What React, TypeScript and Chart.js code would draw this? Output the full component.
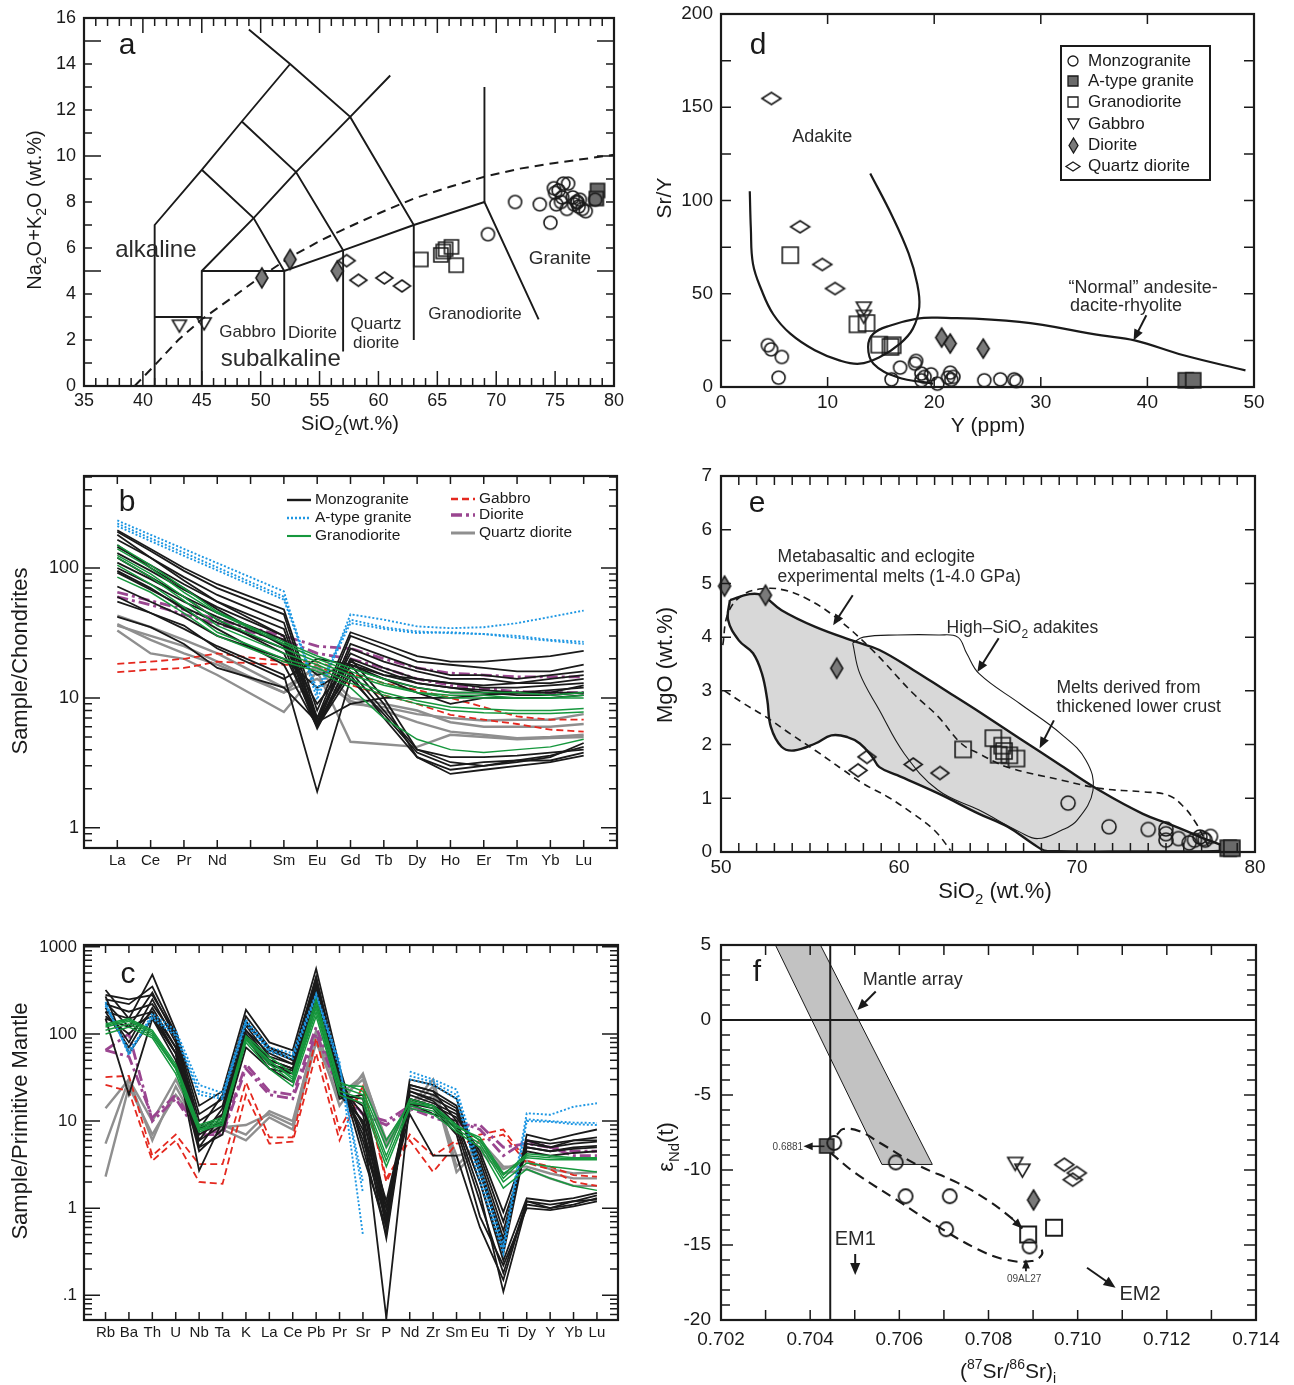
import React, { useEffect, useRef } from "react";
import { Chart, registerables } from "chart.js";

Chart.register(...registerables);

const FONT = "'Liberation Sans', Arial, Helvetica, sans-serif";
const INK = "#1a1a1a";
const TXT = "#2a2a2a";
const GRAY_FILL = "#7a7a7a";
const DARK_FILL = "#6a6a6a";
const C_BLUE = "#1e97e3";
const C_GREEN = "#16973d";
const C_RED = "#e4281f";
const C_PURPLE = "#9a4690";
const C_GRAY = "#8f8f8f";
const SHADE = "#d8d8d8";

type XY = [number, number];
type V = number | null;

/* ---------------- (a) TAS diagram ---------------- */
const TAS_MONZOGRANITE: XY[] = [
  [71.6, 8.0], [69.3, 6.6], [73.7, 7.9], [74.6, 7.1], [74.9, 8.6], [75.0, 8.4], [75.3, 8.5],
  [75.7, 8.8], [76.1, 8.8], [75.1, 7.9], [75.6, 8.2], [76.0, 7.7], [76.5, 8.2], [76.8, 8.0],
  [77.0, 7.8], [77.1, 8.1], [77.3, 7.7], [77.6, 7.6], [76.9, 8.0], [78.4, 8.1], [75.5, 8.0], [76.6, 7.9],
];
const TAS_ATYPE: XY[] = [[78.6, 8.5], [78.5, 8.15]];
const TAS_GRANODIORITE: XY[] = [[63.6, 5.5], [65.3, 5.7], [65.7, 5.95], [66.2, 6.05], [65.5, 5.85], [66.6, 5.25]];
const TAS_GABBRO: XY[] = [[43.1, 2.6], [45.2, 2.7]];
const TAS_DIORITE: XY[] = [[50.1, 4.7], [52.5, 5.5], [56.5, 5.0]];
const TAS_QDIORITE: XY[] = [[57.3, 5.45], [58.3, 4.6], [60.5, 4.7], [62.0, 4.35]];
const TAS_FIELD_LINES: XY[][] = [
  [[41, 0], [41, 7], [45, 9.4], [48.4, 11.5], [52.5, 14]],
  [[49, 15.5], [52.5, 14], [57.6, 11.7], [63, 7], [63, 2]],
  [[45, 9.4], [49.4, 7.3], [52, 5], [52, 2]],
  [[48.4, 11.5], [53, 9.3], [57, 5.9], [57, 1.5]],
  [[45, 0], [45, 5], [49.4, 7.3], [53, 9.3], [57.6, 11.7], [61, 13.5]],
  [[45, 5], [52, 5], [57, 5.9], [63, 7], [69, 8], [73.6, 2.9]],
  [[69, 13], [69, 8]],
  [[41, 3], [45, 3]],
];
const TAS_ALKALINE_DIVIDE: XY[] = [
  [39.3, 0], [41, 0.9], [43, 2.0], [45, 2.9], [48, 4.0], [50, 4.75], [52.5, 5.6], [55, 6.3],
  [57, 6.8], [60, 7.5], [63, 8.15], [66, 8.65], [69, 9.1], [72, 9.45], [75, 9.7], [80, 10.05],
];

/* ---------------- (d) Sr/Y vs Y ---------------- */
const SRY_MONZOGRANITE: XY[] = [
  [4.4, 22.4], [4.7, 20.2], [5.7, 16.1], [5.4, 5.0], [16.0, 4.1], [16.8, 10.4], [18.3, 14],
  [18.2, 12.5], [18.8, 7.2], [19.1, 5.4], [19.7, 6.8], [18.8, 3.6], [20.3, 1.8], [21.3, 5],
  [21.5, 7.7], [21.8, 5.4], [21.6, 3.9], [24.7, 3.6], [26.2, 4.1], [27.5, 4.1], [27.7, 3.2],
];
const SRY_ATYPE: XY[] = [[43.6, 3.6], [44.3, 3.6]];
const SRY_GRANODIORITE: XY[] = [[6.5, 70.7], [12.8, 33.6], [13.65, 34.3], [14.85, 22.7], [16.1, 22.4], [15.9, 21.5]];
const SRY_GABBRO: XY[] = [[13.4, 42], [13.4, 37.6]];
const SRY_DIORITE: XY[] = [[20.7, 26.5], [21.5, 23.3], [24.6, 20.6]];
const SRY_QDIORITE: XY[] = [[4.73, 154.7], [7.42, 85.9], [9.5, 65.7], [10.7, 52.8]];
const SRY_ADAKITE_FIELD: XY[] = [
  [2.7, 105], [2.8, 85], [3.0, 66], [3.8, 52], [4.9, 39], [6.5, 28.6], [8.8, 19.7], [11.1, 14.3],
  [13, 12.5], [14.9, 16.1], [16.8, 23.3], [18, 31.3], [18.6, 42.9], [18.4, 55.5], [17.6, 71.6],
  [16.1, 91.2], [14, 114.5],
];
const SRY_NORMAL_FIELD: XY[] = [
  [19.9, 1.8], [16.5, 5.4], [14.3, 12.5], [13.8, 21.5], [14.3, 28.6], [15.9, 33], [18.4, 36.7],
  [20.3, 37.2], [28, 34.9], [35.7, 27.7], [38.8, 25], [43.4, 17], [49.2, 8.9],
];

/* ---------------- (b) REE ---------------- */
const REE_TICKS = ["La", "Ce", "Pr", "Nd", "", "Sm", "Eu", "Gd", "Tb", "Dy", "Ho", "Er", "Tm", "Yb", "Lu"];
const REE_MONZOGRANITE: V[][] = [
  [195, 140, 100, 75, null, 48, 8, 32, 26, 21, 19, 19, 20, 21, 23],
  [190, 135, 95, 70, null, 44, 7, 30, 24, 19, 18, 17, 16, 16, 18],
  [165, 120, 85, 62, null, 38, 6.5, 26, 21, 17, 15, 15, 14, 15, 16],
  [145, 105, 75, 55, null, 34, 6.2, 24, 19, 16, 14, 14, 13, 14, 15],
  [130, 95, 68, 50, null, 30, 7, 22, 17, 14, 13, 12, 12, 12.5, 13],
  [110, 82, 60, 45, null, 28, 6, 20, 16, 13, 12, 11.5, 11, 11.5, 12],
  [100, 75, 55, 42, null, 26, 9, 19, 15, 13, 12, 11, 11, 11, 12.5],
  [92, 68, 50, 38, null, 24, 15, 18, 15, 14, 13, 12.5, 13, 13, 14],
  [72, 55, 42, 30, null, 20, 12, 17, 14, 12, 11, 11, 10.5, 10.5, 11],
  [180, 120, 80, 55, null, 30, 6, 20, 10, 4, 3.2, 3, 3.2, 3.5, 4.5],
  [150, 100, 70, 48, null, 25, 5.8, 18, 9, 3.5, 2.8, 3, 3.3, 3.6, 4.2],
  [120, 85, 60, 40, null, 22, 6.5, 16, 8, 4, 3.5, 3.5, 3.6, 3.8, 4],
  [95, 70, 48, 34, null, 18, 6, 15, 7, 3.5, 2.6, 2.8, 3, 3.2, 3.6],
  [60, 45, 34, 25, null, 15, 1.9, 14, 7.5, 3.8, 3, 3.2, 3.3, 3.3, 3.8],
  [42, 35, 26, 17, null, 12, 6.5, 9, 10, 10, 10, 10.5, 11, 11, 11],
  [55, 45, 36, 24, null, 14, 20, 18, 14, 11, 9, 10, 10, 10, 10.5],
];
const REE_ATYPE: V[][] = [
  [232, 180, 140, 109, null, 66, 9.7, 44, 40, 35.5, 34.4, 35, 37.6, 42, 47],
  [220, 169, 131, 101, null, 60, 11.5, 40, 35, 32.5, 31.5, 31, 30, 28, 27],
  [210, 161, 124, 96, null, 57, 10.9, 37.7, 34, 31.6, 32, 31, 29, 27.5, 26],
];
const REE_GRANODIORITE: V[][] = [
  [140, 100, 65, 45, null, 26, 20, 16, 13, 11, 10, 10, 10, 10, 10.5],
  [125, 90, 60, 40, null, 24, 19, 15, 12.5, 11, 10.5, 10.5, 10, 10, 10],
  [120, 85, 56, 36, null, 22, 18, 14, 11, 9.5, 8.5, 8.2, 8, 8, 8.3],
  [105, 75, 50, 32, null, 20, 17, 13, 10.5, 9, 8, 7.7, 7.6, 7.6, 7.8],
  [85, 65, 45, 30, null, 19, 16, 12, 7, 4.8, 4, 3.8, 4, 4.2, 4.8],
  [150, 105, 70, 46, null, 27, 21, 17, 14, 12, 11, 11, 11, 10.5, 11],
];
const REE_GABBRO: V[][] = [
  [18.3, 19, 20, 22, null, 19, 19, 15.5, 13, 11.5, 10, 8.5, 7.2, 6.8, 6.8],
  [15.8, 16.5, 17, 19, null, 18, 18, 12.6, 10.5, 9, 7.4, 6.8, 6.3, 5.7, 5.5],
];
const REE_DIORITE: V[][] = [
  [65, 56, 48, 40, null, 30, 25, 24, 20, 17, 15.5, 15, 14.5, 14.5, 14.5],
  [60, 52, 44, 37, null, 28, 22, 20, 17, 14, 12.5, 11.8, 11.2, 11, 11],
];
const REE_QDIORITE: V[][] = [
  [43, 35, 28, 22, null, 12, 17, 9, 8.5, 7.5, 7, 6.7, 6.8, 6.8, 7.5],
  [37, 28, 22, 18, null, 11, 18, 10, 9, 8, 6.5, 6, 6, 6, 6.3],
  [33, 22, 20, 15, null, 7.8, 16, 4.6, 4.4, 4.2, 5.2, 5, 4.8, 4.9, 5],
  [36, 30, 25, 19, null, 11, 14, 9.5, 8, 6.5, 5.5, 5.2, 4.9, 5, 5.2],
];

/* ---------------- (c) spider ---------------- */
const SPIDER_TICKS = ["Rb", "Ba", "Th", "U", "Nb", "Ta", "K", "La", "Ce", "Pb", "Pr", "Sr", "P", "Nd", "Zr", "Sm", "Eu", "Ti", "Dy", "Y", "Yb", "Lu"];
const PM_MONZOGRANITE: V[][] = [
  [320, 150, 480, 110, 15, 22, 190, 80, 65, 560, 42, 5, 0.5, 30, 26, 18, 3, 0.35, 7, 6, 7, 8],
  [250, 220, 350, 100, 12, 18, 160, 70, 55, 450, 35, 4, 0.6, 26, 22, 15, 2.5, 0.4, 6, 5.5, 6, 6.5],
  [230, 120, 300, 90, 10, 15, 140, 65, 50, 400, 30, 6, 0.7, 24, 20, 14, 3, 0.45, 5.5, 5, 5.5, 5.8],
  [200, 80, 250, 80, 8, 12, 125, 55, 45, 350, 26, 7, 0.8, 22, 18, 13, 3.5, 0.55, 5, 4.5, 5, 5.2],
  [180, 70, 200, 70, 7, 10, 110, 50, 40, 300, 24, 8, 1, 20, 16, 12, 4, 0.7, 4.5, 4, 4.3, 4.5],
  [160, 100, 180, 60, 6, 9, 100, 45, 38, 280, 22, 10, 1.2, 18, 15, 11, 4.5, 0.9, 5, 4.5, 4.8, 5],
  [270, 60, 150, 60, 5, 7, 90, 40, 35, 250, 20, 10, 0.055, 16, 12, 10, 2, 0.3, 6, 5, 6, 6],
  [280, 250, 280, 100, 8, 20, 130, 70, 50, 450, 30, 9, 0.45, 26, 22, 10, 2, 0.25, 1.3, 1.2, 1.3, 1.5],
  [220, 180, 220, 90, 6, 14, 110, 60, 45, 380, 26, 12, 0.6, 22, 17, 9, 1.5, 0.11, 1.1, 1.0, 1.1, 1.3],
  [180, 150, 180, 70, 5, 12, 100, 50, 40, 320, 22, 15, 0.7, 18, 15, 8, 1.2, 0.18, 1.2, 1.0, 1.2, 1.25],
  [150, 120, 160, 60, 2.7, 10, 90, 45, 35, 280, 20, 18, 0.8, 16, 14, 7, 0.8, 0.22, 1.0, 0.95, 1.05, 1.2],
  [150, 20, 150, 50, 4.5, 8, 70, 40, 28, 220, 18, 20, 1.0, 12, 4, 4, 0.6, 0.15, 1.2, 1.1, 1.2, 1.4],
];
const PM_ATYPE: V[][] = [
  [234, 57, 172, 110, 26, 21, 145, 70, 60, 290, 48, 0.49, null, 37, 30, 23, 3, 0.38, 12.3, 11.8, 14.6, 16],
  [220, 60, 160, 100, 22, 19, 140, 65, 55, 280, 44, 1.5, null, 33, 28, 20, 2.5, 0.33, 10.5, 10, 9.6, 9.5],
  [210, 65, 150, 95, 20, 18, 130, 62, 52, 270, 40, 2, null, 30, 26, 18, 2, 0.3, 10, 9.8, 9.2, 9],
];
const PM_GRANODIORITE: V[][] = [
  [120, 140, 100, 40, 8, 10, 90, 50, 30, 200, 25, 20, 4, 18, 15, 9, 6, 2.2, 4, 3.8, 3.7, 3.7],
  [130, 150, 110, 45, 9, 11, 95, 55, 35, 250, 28, 22, 5, 17, 14, 8.5, 6.5, 2.5, 3.8, 3.6, 3.6, 3.6],
  [110, 130, 95, 40, 8, 9, 85, 45, 28, 180, 22, 18, 3.5, 15, 13, 8, 5.5, 2, 3.3, 3.0, 2.8, 2.6],
  [100, 120, 90, 35, 7.5, 9.5, 80, 40, 25, 160, 20, 16, 3, 14, 12, 7.5, 5, 1.7, 2.8, 2.2, 1.8, 1.6],
  [125, 145, 105, 42, 8.5, 10.5, 88, 48, 32, 220, 26, 25, 6, 16, 15, 9, 6, 2.4, 4.2, 4, 3.8, 3.8],
];
const PM_GABBRO: V[][] = [
  [32, 33, 4, 7, 3.2, 3.2, 28, 6.5, 6.5, 90, 8, 25, 2, 7, 4, 6, 7, 8, 3.5, 3, 2.4, 2.3],
  [26, 22, 3.5, 6, 2.0, 1.9, 20, 5.5, 5.8, 60, 6, 25, 2.2, 6, 2.6, 5.5, 6, 7, 3.3, 2.8, 2.0, 1.8],
];
const PM_DIORITE: V[][] = [
  [65, 55, 11, 20, 7.5, 7.5, 45, 22, 20, 120, 25, 12, 10, 15, 12, 10, 8, 4, 6, 5, 4.5, 4.5],
  [65, 100, 10, 18, 7, 7, 40, 20, 18, 100, 22, 12, 9, 14, 11, 9, 9, 5, 5.5, 5, 4, 4],
];
const PM_QDIORITE: V[][] = [
  [14, 30, 10, 30, 9, 8.5, 9, 12, 9, 110, 20, 33, 6, 15, 30, 3, 6, 3, 3, 2.5, 2.2, 2.2],
  [5.5, 30, 6, 25, 8, 8, 6, 11, 8, 80, 18, 30, 5, 14, 25, 2.6, 5, 2.8, 3.5, 2.8, 2.5, 2.6],
  [2.3, 25, 7, 20, 9, 9, 7, 13, 10, 100, 15, 35, 5.5, 13, 20, 4, 4.5, 2.5, 2.8, 2.2, 1.8, 1.8],
];

/* ---------------- (e) MgO vs SiO2 ---------------- */
const MG_MONZOGRANITE: XY[] = [
  [69.5, 0.91], [71.8, 0.47], [74.0, 0.42], [75.0, 0.34], [75.0, 0.22], [75.7, 0.25], [76.3, 0.17],
  [76.9, 0.28], [77.1, 0.25], [77.5, 0.29], [75.0, 0.43], [76.6, 0.22], [77.2, 0.22],
];
const MG_ATYPE: XY[] = [[78.5, 0.07], [78.7, 0.07]];
const MG_GRANODIORITE: XY[] = [[63.6, 1.91], [65.3, 2.12], [65.8, 1.98], [65.6, 1.81], [66.2, 1.8], [66.6, 1.74], [65.9, 1.88]];
const MG_DIORITE: XY[] = [[50.2, 4.95], [52.5, 4.78], [56.5, 3.42]];
const MG_QDIORITE: XY[] = [[58.2, 1.77], [57.7, 1.52], [60.8, 1.63], [62.3, 1.47]];
const MG_THICK_CRUST: XY[] = [
  [50.5, 4.69], [51.6, 4.8], [52.3, 4.78], [53.4, 4.5], [55.3, 4.19], [57.6, 3.91], [58.9, 3.76],
  [60.8, 3.39], [62.6, 3.01], [64.5, 2.61], [66.8, 2.11], [69.1, 1.61], [71.4, 1.12], [73.7, 0.71],
  [75.1, 0.53], [76.7, 0.31], [78.5, 0.03], [73, 0.01], [68.3, 0.02], [67.5, 0.16], [66.1, 0.47],
  [64.5, 0.71], [62.2, 1.09], [59.9, 1.43], [58.9, 1.58], [58.5, 1.77], [57.8, 2.02], [57.1, 2.14],
  [56.2, 2.17], [55.3, 2.02], [54.1, 1.89], [53.4, 1.96], [52.8, 2.33], [52.6, 2.83], [52.3, 3.32],
  [51.8, 3.7], [51.0, 3.94], [50.4, 4.32], [50.5, 4.69],
];
const MG_HIGH_SIO2_ADAKITE: XY[] = [
  [57.4, 3.89], [58, 4.0], [59.9, 4.04], [62.2, 4.04], [63.3, 4.0], [63.8, 3.7], [64.5, 3.32],
  [66.8, 2.76], [69.1, 2.2], [70.5, 1.71], [70.9, 1.15], [70.0, 0.59], [69.1, 0.4], [67.8, 0.25],
  [66.8, 0.37], [64.5, 0.78], [62.2, 1.15], [60.3, 1.83], [58.9, 2.64], [57.8, 3.32], [57.4, 3.89],
];
const MG_EXPERIMENT_UPPER: XY[] = [
  [50.1, 3.85], [50.4, 4.45], [51.2, 4.78], [52.3, 4.9], [53.5, 4.88], [54.8, 4.72], [56.4, 4.38],
  [58.5, 3.76], [60.8, 2.95], [62.2, 2.52], [63.5, 2.02], [64.5, 1.83], [66.1, 1.58], [69.1, 1.34],
  [71.4, 1.18], [73.7, 1.12], [75.1, 1.06], [76, 0.84], [76.7, 0.53], [77.1, 0.28], [77.5, 0.03],
];
const MG_EXPERIMENT_LOWER: XY[] = [
  [50.2, 3.0], [51.3, 2.76], [52.5, 2.52], [53.9, 2.2], [55.3, 1.89], [56.9, 1.52], [58, 1.27],
  [59.4, 1.02], [60.8, 0.71], [62, 0.4], [62.9, 0.03],
];

/* ---------------- (f) Sr-Nd isotopes ---------------- */
const ND_MONZOGRANITE: XY[] = [[0.70454, -8.2], [0.70592, -9.5], [0.70614, -11.75], [0.70713, -11.75], [0.70705, -13.95], [0.70892, -15.1]];
const ND_ATYPE: XY[] = [[0.70437, -8.4]];
const ND_GRANODIORITE: XY[] = [[0.70889, -14.3], [0.70947, -13.85]];
const ND_GABBRO: XY[] = [[0.7086, -9.6], [0.70876, -10.05]];
const ND_DIORITE: XY[] = [[0.70901, -12.0]];
const ND_QDIORITE: XY[] = [[0.7097, -9.65], [0.70998, -10.2], [0.70989, -10.65]];
const ND_MANTLE_ARRAY: XY[] = [[0.70322, 5], [0.70423, 5], [0.70674, -9.63], [0.70561, -9.63], [0.70322, 5]];
const ND_BULK_EARTH_SR: XY[] = [[0.70445, -20], [0.70445, 5]];
const ND_CHUR: XY[] = [[0.702, 0], [0.714, 0]];
const ND_TREND_UPPER: XY[] = [
  [0.7046, -7.64], [0.70474, -7.27], [0.70511, -7.42], [0.70557, -8.2], [0.70639, -9.64],
  [0.70731, -10.86], [0.70796, -11.97], [0.70851, -13.19], [0.70876, -13.9],
];
const ND_TREND_LOWER: XY[] = [
  [0.70446, -8.86], [0.70501, -10.2], [0.70593, -11.97], [0.70685, -13.74], [0.70777, -15.3],
  [0.70842, -16.0], [0.70897, -16.07], [0.7092, -15.63], [0.70917, -15.07],
];

/* ---------------- helpers ---------------- */
type Seg = { t: string; k?: "sub" | "sup" };
type Tick = { v: number; len: number; label?: string };

function marker(kind: string, w: number, h: number, fill: string, lw = 1.6): HTMLCanvasElement {
  const c = document.createElement("canvas");
  const pad = 2;
  c.width = Math.round(w + pad * 2);
  c.height = Math.round(h + pad * 2);
  const g = c.getContext("2d")!;
  const cx = c.width / 2, cy = c.height / 2;
  g.lineWidth = lw;
  g.strokeStyle = INK;
  g.fillStyle = fill;
  g.beginPath();
  if (kind === "circle") g.ellipse(cx, cy, w / 2, h / 2, 0, 0, Math.PI * 2);
  else if (kind === "square") g.rect(cx - w / 2, cy - h / 2, w, h);
  else if (kind === "triDown") {
    g.moveTo(cx - w / 2, cy - h / 2); g.lineTo(cx + w / 2, cy - h / 2); g.lineTo(cx, cy + h / 2); g.closePath();
  } else {
    g.moveTo(cx, cy - h / 2); g.lineTo(cx + w / 2, cy); g.lineTo(cx, cy + h / 2); g.lineTo(cx - w / 2, cy); g.closePath();
  }
  if (fill !== "none") g.fill();
  g.stroke();
  return c;
}

function drawRich(ctx: any, segs: Seg[], x: number, y: number, size: number, rot = false, align = "center", color = INK) {
  ctx.save();
  ctx.translate(x, y);
  if (rot) ctx.rotate(-Math.PI / 2);
  ctx.fillStyle = color;
  ctx.textAlign = "left";
  ctx.textBaseline = "alphabetic";
  const items = segs.map((s) => {
    const fs = s.k ? Math.round(size * 0.68) : size;
    ctx.font = `${fs}px ${FONT}`;
    return { s, fs, w: ctx.measureText(s.t).width };
  });
  const total = items.reduce((a, b) => a + b.w, 0);
  let cx = align === "center" ? -total / 2 : 0;
  const base = size * 0.36;
  for (const it of items) {
    ctx.font = `${it.fs}px ${FONT}`;
    const dy = it.s.k === "sub" ? size * 0.26 : it.s.k === "sup" ? -size * 0.42 : 0;
    ctx.fillText(it.s.t, cx, base + dy);
    cx += it.w;
  }
  ctx.restore();
}

function text(ctx: any, s: string, x: number, y: number, size: number, align = "center", color = TXT, weight = "") {
  ctx.font = `${weight} ${size}px ${FONT}`;
  ctx.fillStyle = color;
  ctx.textAlign = align;
  ctx.textBaseline = "middle";
  ctx.fillText(s, x, y);
}

function arrow(ctx: any, x1: number, y1: number, x2: number, y2: number, head = 11, lw = 2, color = INK) {
  const ang = Math.atan2(y2 - y1, x2 - x1);
  ctx.strokeStyle = color;
  ctx.fillStyle = color;
  ctx.lineWidth = lw;
  ctx.setLineDash([]);
  ctx.beginPath();
  ctx.moveTo(x1, y1);
  ctx.lineTo(x2 - Math.cos(ang) * head * 0.7, y2 - Math.sin(ang) * head * 0.7);
  ctx.stroke();
  ctx.beginPath();
  ctx.moveTo(x2, y2);
  ctx.lineTo(x2 - head * Math.cos(ang - 0.4), y2 - head * Math.sin(ang - 0.4));
  ctx.lineTo(x2 - head * Math.cos(ang + 0.4), y2 - head * Math.sin(ang + 0.4));
  ctx.closePath();
  ctx.fill();
}

function linTicks(n0: number, n1: number, step: number, major: (i: number) => boolean, majLen: number, minLen: number, fmt: (v: number) => string, labelled?: (i: number) => boolean): Tick[] {
  const out: Tick[] = [];
  const n = Math.round((n1 - n0) / step);
  for (let i = 0; i <= n; i++) {
    const v = +(n0 + i * step).toFixed(6);
    const m = major(i);
    const lab = labelled ? labelled(i) : m;
    out.push({ v, len: m ? majLen : minLen, label: lab ? fmt(v) : undefined });
  }
  return out;
}

function logTicks(minV: number, maxV: number, fmt: (v: number) => string, majLen: number, minLen: number): Tick[] {
  const out: Tick[] = [];
  for (let d = Math.floor(Math.log10(minV)); d <= Math.ceil(Math.log10(maxV)); d++) {
    for (let m = 1; m <= 9; m++) {
      const v = +(m * Math.pow(10, d)).toPrecision(6);
      if (v < minV * 0.999 || v > maxV * 1.001) continue;
      out.push({ v, len: m === 1 ? majLen : minLen, label: m === 1 ? fmt(v) : undefined });
    }
  }
  return out;
}

const pts = (data: XY[], style: HTMLCanvasElement, order = 0) => ({
  data: data.map(([x, y]) => ({ x, y })),
  showLine: false,
  pointStyle: style,
  pointRadius: 6,
  pointHoverRadius: 6,
  clip: false,
  order,
});

const ln = (data: XY[], o: any = {}) => ({
  data: data.map(([x, y]) => ({ x, y })),
  borderColor: INK,
  borderWidth: 1.9,
  pointRadius: 0,
  fill: false,
  tension: 0,
  order: 5,
  ...o,
});

const series = (rows: V[][], style: any, order: number, spanGaps: boolean) =>
  rows.map((r) => ({
    data: r.map((y, i) => ({ x: i, y })),
    pointRadius: 0,
    fill: false,
    tension: 0,
    spanGaps,
    order,
    ...style,
  }));

const STY = {
  monzo: { borderColor: INK, borderWidth: 1.8, borderDash: [] },
  atype: { borderColor: C_BLUE, borderWidth: 1.9, borderDash: [2, 2] },
  grano: { borderColor: C_GREEN, borderWidth: 1.5, borderDash: [] },
  gabbro: { borderColor: C_RED, borderWidth: 1.8, borderDash: [7, 4] },
  diorite: { borderColor: C_PURPLE, borderWidth: 2.8, borderDash: [11, 4, 3, 4] },
  qd: { borderColor: C_GRAY, borderWidth: 2.4, borderDash: [] },
};

type Geo = { x: number; y: number; w: number; h: number; l: number; t: number; r: number; b: number };
const GEO: Record<string, Geo> = {
  a: { x: 0, y: 0, w: 645, h: 445, l: 84, t: 18, r: 614, b: 386 },
  d: { x: 645, y: 0, w: 649, h: 445, l: 721, t: 14, r: 1254, b: 387 },
  b: { x: 0, y: 445, w: 645, h: 470, l: 84, t: 476, r: 617, b: 848 },
  e: { x: 645, y: 445, w: 649, h: 470, l: 721, t: 476, r: 1255, b: 852 },
  c: { x: 0, y: 915, w: 645, h: 470, l: 84, t: 945, r: 618, b: 1320 },
  f: { x: 645, y: 915, w: 649, h: 470, l: 721, t: 945, r: 1256, b: 1320 },
};

type Spec = {
  geo: Geo;
  xt: Tick[];
  yt: Tick[];
  xFont: number;
  yFont: number;
  xLabDy: number;
  yLabDx: number;
  titles: { segs: Seg[]; x: number; y: number; size: number; rot?: boolean }[];
  letter: { t: string; x: number; y: number; size: number };
  extra?: (ctx: any, X: (v: number) => number, Y: (v: number) => number, P: (x: number, y: number) => number[]) => void;
};

function deco(spec: Spec) {
  return {
    id: "deco",
    afterDraw(chart: any) {
      const ctx = chart.ctx;
      const a = chart.chartArea;
      const sx = chart.scales.x, sy = chart.scales.y;
      const X = (v: number) => sx.getPixelForValue(v);
      const Y = (v: number) => sy.getPixelForValue(v);
      const g = spec.geo;
      const P = (x: number, y: number) => [x - g.x, y - g.y];
      ctx.save();
      ctx.setLineDash([]);
      ctx.strokeStyle = INK;
      ctx.lineWidth = 1.5;
      ctx.beginPath();
      for (const t of spec.xt) {
        const px = X(t.v);
        ctx.moveTo(px, a.bottom); ctx.lineTo(px, a.bottom - t.len);
        ctx.moveTo(px, a.top); ctx.lineTo(px, a.top + t.len);
      }
      for (const t of spec.yt) {
        const py = Y(t.v);
        ctx.moveTo(a.left, py); ctx.lineTo(a.left + t.len, py);
        ctx.moveTo(a.right, py); ctx.lineTo(a.right - t.len, py);
      }
      ctx.stroke();
      ctx.lineWidth = 2.2;
      ctx.strokeRect(a.left, a.top, a.right - a.left, a.bottom - a.top);
      for (const t of spec.xt) if (t.label) text(ctx, t.label, X(t.v), a.bottom + spec.xLabDy, spec.xFont, "center", INK);
      for (const t of spec.yt) if (t.label) text(ctx, t.label, a.left - spec.yLabDx, Y(t.v), spec.yFont, "right", INK);
      for (const ti of spec.titles) {
        const [tx, ty] = P(ti.x, ti.y);
        drawRich(ctx, ti.segs, tx, ty, ti.size, !!ti.rot);
      }
      const [lx, ly] = P(spec.letter.x, spec.letter.y);
      text(ctx, spec.letter.t, lx, ly, spec.letter.size, "center", INK);
      if (spec.extra) spec.extra(ctx, X, Y, P);
      ctx.restore();
    },
  };
}

function config(spec: Spec, datasets: any[], xs: any, ys: any) {
  const g = spec.geo;
  return {
    type: "line",
    data: { datasets },
    options: {
      responsive: false,
      maintainAspectRatio: false,
      animation: false,
      events: [],
      layout: { padding: { left: g.l - g.x, top: g.t - g.y, right: g.x + g.w - g.r, bottom: g.y + g.h - g.b } },
      plugins: { legend: { display: false }, tooltip: { enabled: false } },
      scales: { x: { display: false, ...xs }, y: { display: false, ...ys } },
    },
    plugins: [deco(spec)],
  };
}

/* ---------------- panel builders ---------------- */
function buildA() {
  const spec: Spec = {
    geo: GEO.a,
    xt: linTicks(35, 80, 1, (i) => i % 5 === 0, 15, 8, (v) => String(v)),
    yt: linTicks(0, 16, 1, (i) => i % 5 === 0, 17, 8, (v) => String(v), (i) => i % 2 === 0),
    xFont: 18, yFont: 18, xLabDy: 15, yLabDx: 8,
    titles: [
      { segs: [{ t: "Na" }, { t: "2", k: "sub" }, { t: "O+K" }, { t: "2", k: "sub" }, { t: "O (wt.%)" }], x: 34, y: 210, size: 20, rot: true },
      { segs: [{ t: "SiO" }, { t: "2", k: "sub" }, { t: "(wt.%)" }], x: 350, y: 423, size: 20 },
    ],
    letter: { t: "a", x: 127, y: 46, size: 30 },
    extra: (ctx, X, Y) => {
      text(ctx, "alkaline", X(41.1), Y(5.88), 24);
      text(ctx, "subalkaline", X(51.7), Y(1.14), 24);
      text(ctx, "Gabbro", X(48.9), Y(2.34), 17);
      text(ctx, "Diorite", X(54.4), Y(2.31), 17);
      text(ctx, "Quartz", X(59.8), Y(2.67), 17);
      text(ctx, "diorite", X(59.8), Y(1.86), 17);
      text(ctx, "Granodiorite", X(68.2), Y(3.11), 17);
      text(ctx, "Granite", X(75.4), Y(5.52), 19);
    },
  };
  const ds = [
    pts(TAS_MONZOGRANITE, marker("circle", 13, 13, "none")),
    pts(TAS_ATYPE, marker("square", 14, 14, DARK_FILL)),
    pts(TAS_GRANODIORITE, marker("square", 14, 14, "none")),
    pts(TAS_GABBRO, marker("triDown", 14, 12, "none")),
    pts(TAS_DIORITE, marker("diamond", 12, 20, GRAY_FILL)),
    pts(TAS_QDIORITE, marker("diamond", 17, 12, "none")),
    ...TAS_FIELD_LINES.map((l) => ln(l)),
    ln(TAS_ALKALINE_DIVIDE, { borderDash: [9, 6], borderWidth: 2 }),
  ];
  return config(spec, ds, { type: "linear", min: 35, max: 80 }, { type: "linear", min: 0, max: 16 });
}

function buildD() {
  const legendItems = [
    [marker("circle", 10, 10, "none", 1.3), "Monzogranite"],
    [marker("square", 10, 10, DARK_FILL, 1.3), "A-type granite"],
    [marker("square", 10, 10, "none", 1.3), "Granodiorite"],
    [marker("triDown", 11, 10, "none", 1.3), "Gabbro"],
    [marker("diamond", 9, 15, GRAY_FILL, 1.3), "Diorite"],
    [marker("diamond", 14, 9, "none", 1.3), "Quartz diorite"],
  ] as [HTMLCanvasElement, string][];
  const legendY = [61, 81, 102, 124, 145, 166];
  const spec: Spec = {
    geo: GEO.d,
    xt: linTicks(0, 50, 10, () => true, 10, 10, (v) => String(v)),
    yt: linTicks(0, 200, 25, (i) => i % 2 === 0, 10, 10, (v) => String(v)),
    xFont: 19, yFont: 19, xLabDy: 16, yLabDx: 8,
    titles: [
      { segs: [{ t: "Sr/Y" }], x: 663, y: 198, size: 21, rot: true },
      { segs: [{ t: "Y (ppm)" }], x: 988, y: 424, size: 21 },
    ],
    letter: { t: "d", x: 758, y: 46, size: 30 },
    extra: (ctx, X, Y, P) => {
      text(ctx, "Adakite", X(9.5), Y(134), 18);
      text(ctx, "\u201CNormal\u201D andesite-", X(39.6), Y(53.3), 18);
      text(ctx, "dacite-rhyolite", X(38), Y(43.3), 18);
      arrow(ctx, X(39.9), Y(38.5), X(38.7), Y(25), 12, 2);
      const [bx, by] = P(1061, 46);
      const [bx2, by2] = P(1210, 180);
      ctx.lineWidth = 2;
      ctx.strokeStyle = INK;
      ctx.setLineDash([]);
      ctx.strokeRect(bx, by, bx2 - bx, by2 - by);
      legendItems.forEach(([img, label], i) => {
        const [mx, my] = P(1073, legendY[i]);
        ctx.drawImage(img, Math.round(mx - img.width / 2), Math.round(my - img.height / 2));
        const [tx] = P(1088, 0);
        text(ctx, label, tx, my, 17, "left", INK);
      });
    },
  };
  const ds = [
    pts(SRY_MONZOGRANITE, marker("circle", 13, 13, "none")),
    pts(SRY_ATYPE, marker("square", 15, 15, DARK_FILL)),
    pts(SRY_GRANODIORITE, marker("square", 16, 16, "none")),
    pts(SRY_GABBRO, marker("triDown", 15, 13, "none")),
    pts(SRY_DIORITE, marker("diamond", 12, 19, GRAY_FILL)),
    pts(SRY_QDIORITE, marker("diamond", 19, 12, "none")),
    ln(SRY_ADAKITE_FIELD, { tension: 0.4, borderWidth: 2.2 }),
    ln(SRY_NORMAL_FIELD, { tension: 0.4, borderWidth: 2.2 }),
  ];
  return config(spec, ds, { type: "linear", min: 0, max: 50 }, { type: "linear", min: 0, max: 200 });
}

function drawLegendLine(ctx: any, x1: number, x2: number, y: number, st: any) {
  ctx.save();
  ctx.strokeStyle = st.borderColor;
  ctx.lineWidth = st.borderWidth + 0.6;
  ctx.setLineDash(st.borderDash);
  ctx.beginPath();
  ctx.moveTo(x1, y);
  ctx.lineTo(x2, y);
  ctx.stroke();
  ctx.restore();
}

function buildB() {
  const legend = [
    [STY.monzo, "Monzogranite", 287, 500],
    [STY.atype, "A-type granite", 287, 518],
    [STY.grano, "Granodiorite", 287, 536],
    [STY.gabbro, "Gabbro", 451, 499],
    [STY.diorite, "Diorite", 451, 515],
    [STY.qd, "Quartz diorite", 451, 533],
  ] as [any, string, number, number][];
  const spec: Spec = {
    geo: GEO.b,
    xt: REE_TICKS.map((t, i) => ({ v: i, len: 8, label: t || undefined })),
    yt: logTicks(0.7, 510, (v) => String(v), 16, 8),
    xFont: 15, yFont: 18, xLabDy: 13, yLabDx: 5,
    titles: [{ segs: [{ t: "Sample/Chondrites" }], x: 19, y: 661, size: 22, rot: true }],
    letter: { t: "b", x: 127, y: 503, size: 30 },
    extra: (ctx, X, Y, P) => {
      legend.forEach(([st, label, x, y]) => {
        const [lx, ly] = P(x, y);
        drawLegendLine(ctx, lx, lx + 24, ly, st);
        text(ctx, label, lx + 28, ly, 15.5, "left", INK);
      });
    },
  };
  const ds = [
    ...series(REE_GRANODIORITE, STY.grano, 1, true),
    ...series(REE_ATYPE, STY.atype, 2, true),
    ...series(REE_MONZOGRANITE, STY.monzo, 3, true),
    ...series(REE_DIORITE, STY.diorite, 4, true),
    ...series(REE_GABBRO, STY.gabbro, 5, true),
    ...series(REE_QDIORITE, STY.qd, 6, true),
  ];
  return config(spec, ds, { type: "linear", min: -1, max: 15 }, { type: "logarithmic", min: 0.7, max: 510 });
}

function buildE() {
  const spec: Spec = {
    geo: GEO.e,
    xt: linTicks(50, 80, 1, (i) => i % 10 === 0, 9, 9, (v) => String(v)),
    yt: linTicks(0, 7, 1, () => true, 10, 10, (v) => String(v)),
    xFont: 19, yFont: 19, xLabDy: 16, yLabDx: 9,
    titles: [
      { segs: [{ t: "MgO (wt.%)" }], x: 664, y: 665, size: 22, rot: true },
      { segs: [{ t: "SiO" }, { t: "2", k: "sub" }, { t: " (wt.%)" }], x: 995, y: 890, size: 22 },
    ],
    letter: { t: "e", x: 757, y: 504, size: 30 },
    extra: (ctx, X, Y) => {
      text(ctx, "Metabasaltic and eclogite", X(53.18), Y(5.48), 17.5, "left");
      text(ctx, "experimental melts (1-4.0 GPa)", X(53.18), Y(5.11), 17.5, "left");
      drawRich(ctx, [{ t: "High\u2013SiO" }, { t: "2", k: "sub" }, { t: " adakites" }], X(62.67), Y(4.19), 17.5, false, "left", TXT);
      text(ctx, "Melts derived from", X(68.85), Y(3.05), 17.5, "left");
      text(ctx, "thickened lower crust", X(68.85), Y(2.7), 17.5, "left");
      arrow(ctx, X(57.4), Y(4.78), X(56.3), Y(4.22), 12, 2);
      arrow(ctx, X(65.6), Y(3.98), X(64.4), Y(3.35), 12, 2);
      arrow(ctx, X(68.7), Y(2.45), X(67.9), Y(1.93), 12, 2);
    },
  };
  const ds = [
    pts(MG_MONZOGRANITE, marker("circle", 14, 14, "none")),
    pts(MG_ATYPE, marker("square", 16, 16, DARK_FILL)),
    pts(MG_GRANODIORITE, marker("square", 16, 16, "none")),
    pts(MG_DIORITE, marker("diamond", 12, 20, GRAY_FILL)),
    pts(MG_QDIORITE, marker("diamond", 18, 13, "none")),
    ln(MG_EXPERIMENT_UPPER, { tension: 0.4, borderDash: [7, 5], borderWidth: 1.6, order: 4 }),
    ln(MG_EXPERIMENT_LOWER, { tension: 0.4, borderDash: [7, 5], borderWidth: 1.6, order: 4 }),
    ln(MG_HIGH_SIO2_ADAKITE, { tension: 0.4, borderWidth: 1.1, order: 5 }),
    ln(MG_THICK_CRUST, { tension: 0.4, borderWidth: 2.4, fill: "shape", backgroundColor: SHADE, order: 8 }),
  ];
  return config(spec, ds, { type: "linear", min: 50, max: 80 }, { type: "linear", min: 0, max: 7 });
}

function buildC() {
  const spec: Spec = {
    geo: GEO.c,
    xt: SPIDER_TICKS.map((t, i) => ({ v: i, len: 8, label: t })),
    yt: logTicks(0.052, 1050, (v) => (v < 1 ? ".1" : String(v)), 16, 8),
    xFont: 15, yFont: 17, xLabDy: 13, yLabDx: 7,
    titles: [{ segs: [{ t: "Sample/Primitive Mantle" }], x: 19, y: 1121, size: 22, rot: true }],
    letter: { t: "c", x: 128, y: 975, size: 30 },
  };
  const ds = [
    ...series(PM_GRANODIORITE, STY.grano, 1, false),
    ...series(PM_ATYPE, STY.atype, 2, false),
    ...series(PM_MONZOGRANITE, STY.monzo, 3, false),
    ...series(PM_DIORITE, STY.diorite, 4, false),
    ...series(PM_GABBRO, STY.gabbro, 5, false),
    ...series(PM_QDIORITE, STY.qd, 6, false),
  ];
  return config(spec, ds, { type: "linear", min: -0.92, max: 21.9 }, { type: "logarithmic", min: 0.052, max: 1050 });
}

function buildF() {
  const spec: Spec = {
    geo: GEO.f,
    xt: linTicks(0.702, 0.714, 0.001, (i) => i % 2 === 0, 10, 10, (v) => v.toFixed(3)),
    yt: linTicks(-20, 5, 1, (i) => i % 5 === 0, 12, 9, (v) => String(v)),
    xFont: 19, yFont: 19, xLabDy: 20, yLabDx: 10,
    titles: [
      { segs: [{ t: "\u03B5" }, { t: "Nd", k: "sub" }, { t: "(t)" }], x: 665, y: 1147, size: 22, rot: true },
      { segs: [{ t: "(" }, { t: "87", k: "sup" }, { t: "Sr/" }, { t: "86", k: "sup" }, { t: "Sr)" }, { t: "i", k: "sub" }], x: 1008, y: 1370, size: 21 },
    ],
    letter: { t: "f", x: 757, y: 973, size: 30 },
    extra: (ctx, X, Y) => {
      text(ctx, "Mantle array", X(0.70518), Y(2.67), 18, "left");
      arrow(ctx, X(0.70547), Y(1.9), X(0.70506), Y(0.67), 12, 2);
      text(ctx, "EM1", X(0.70501), Y(-14.6), 20);
      arrow(ctx, X(0.70501), Y(-15.6), X(0.70501), Y(-17.0), 13, 2);
      text(ctx, "EM2", X(0.7114), Y(-18.29), 20);
      arrow(ctx, X(0.71021), Y(-16.52), X(0.71085), Y(-17.85), 13, 2);
      text(ctx, "0.6881", X(0.7035), Y(-8.47), 10, "center", "#444");
      arrow(ctx, X(0.70432), Y(-8.42), X(0.70385), Y(-8.42), 10, 1.6);
      text(ctx, "09AL27", X(0.7088), Y(-17.3), 10, "center", "#444");
      arrow(ctx, X(0.70884), Y(-16.75), X(0.70884), Y(-15.95), 10, 1.8);
      const up = ND_TREND_UPPER;
      const p1 = up[up.length - 2], p2 = up[up.length - 1];
      arrow(ctx, X(p1[0]), Y(p1[1]), X(p2[0]), Y(p2[1]), 11, 1.5);
    },
  };
  const ds = [
    pts(ND_MONZOGRANITE, marker("circle", 14, 14, "none", 1.8)),
    pts(ND_ATYPE, marker("square", 14, 14, DARK_FILL), 1),
    pts(ND_GRANODIORITE, marker("square", 16, 16, "none", 1.9)),
    pts(ND_GABBRO, marker("triDown", 15, 13, "none")),
    pts(ND_DIORITE, marker("diamond", 12, 20, GRAY_FILL)),
    pts(ND_QDIORITE, marker("diamond", 19, 13, "none")),
    ln(ND_TREND_UPPER, { tension: 0.4, borderDash: [10, 6], borderWidth: 2.1, order: 3 }),
    ln(ND_TREND_LOWER, { tension: 0.4, borderDash: [10, 6], borderWidth: 2.1, order: 3 }),
    ln(ND_BULK_EARTH_SR, { borderWidth: 2, order: 4 }),
    ln(ND_CHUR, { borderWidth: 2, order: 4 }),
    ln(ND_MANTLE_ARRAY, { borderWidth: 1, fill: "shape", backgroundColor: "#c2c2c2", order: 9 }),
  ];
  return config(spec, ds, { type: "linear", min: 0.702, max: 0.714 }, { type: "linear", min: -20, max: 5 });
}

function Panel({ geo, build }: { geo: Geo; build: () => any }) {
  const ref = useRef<HTMLCanvasElement>(null);
  useEffect(() => {
    const chart = new Chart(ref.current as HTMLCanvasElement, build());
    return () => chart.destroy();
  }, []);
  return (
    <canvas
      ref={ref}
      width={geo.w}
      height={geo.h}
      style={{ position: "absolute", left: geo.x, top: geo.y, width: geo.w, height: geo.h }}
    />
  );
}

export default function App() {
  return (
    <div style={{ position: "absolute", left: 0, top: 0, width: 1294, height: 1385, background: "#fff", overflow: "hidden" }}>
      <Panel geo={GEO.a} build={buildA} />
      <Panel geo={GEO.d} build={buildD} />
      <Panel geo={GEO.b} build={buildB} />
      <Panel geo={GEO.e} build={buildE} />
      <Panel geo={GEO.c} build={buildC} />
      <Panel geo={GEO.f} build={buildF} />
    </div>
  );
}
